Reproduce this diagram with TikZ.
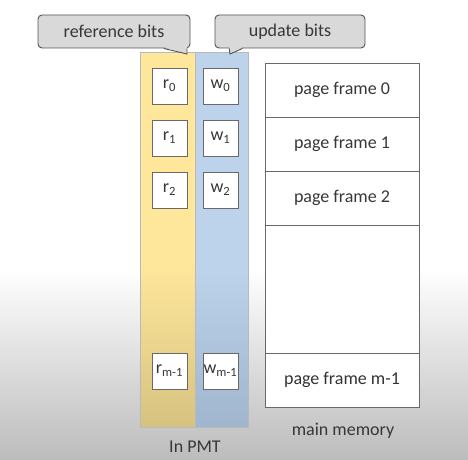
\documentclass[tikz,border=0pt]{standalone}
\usepackage{fontspec}
\setmainfont{Carlito}
\definecolor{reftop}{RGB}{254,230,155}
\definecolor{refbot}{RGB}{214,194,128}
\definecolor{updtop}{RGB}{188,211,235}
\definecolor{updbot}{RGB}{160,181,206}
\definecolor{bggray}{RGB}{188,188,188}
\definecolor{tipgray}{RGB}{217,217,217}
\definecolor{tipline}{RGB}{85,85,85}
\definecolor{txtgray}{RGB}{55,55,55}
\definecolor{boxline}{RGB}{105,105,105}
\begin{document}
\begin{tikzpicture}[x=0.75pt,y=-0.75pt,
  every node/.style={text=txtgray,font=\fontsize{13.5}{16}\selectfont},
  bitcell/.style={draw=boxline,fill=white,line width=0.6pt,minimum width=26.25pt,minimum height=27pt,inner sep=0pt},
  framecell/.style={draw=boxline,fill=white,line width=0.7pt,minimum width=115.5pt,minimum height=40.5pt,inner sep=0pt},
  bitlabel/.style={draw=tipline,fill=tipgray,line width=0.7pt,rounded corners=3pt,minimum height=24.75pt,inner sep=0pt}]
\useasboundingbox (0,0) rectangle (468,460);
% background
\fill[white] (0,0) rectangle (468,460);
\shade[top color=white,bottom color=bggray] (0,268) rectangle (468,460);
% PMT columns
\fill[reftop] (140,52) rectangle (195,268);
\shade[top color=reftop,bottom color=refbot] (140,268) rectangle (195,427);
\fill[updtop] (195,52) rectangle (248,268);
\shade[top color=updtop,bottom color=updbot] (195,268) rectangle (248,427);
\draw[gray!55,line width=0.5pt] (140,52) rectangle (195,427);
\draw[gray!55,line width=0.5pt] (195,52) rectangle (248,427);
% reference and update bits
\foreach \i/\y in {0/86,1/138,2/190} {
  \node[bitcell] (r\i) at (169.5,\y) {r\textsubscript{\i}};
  \node[bitcell] (w\i) at (220.5,\y) {w\textsubscript{\i}};
}
\node[bitcell] (rlast) at (169.5,371) {r\textsubscript{m-1}};
\node[bitcell] (wlast) at (220.5,371) {w\textsubscript{m-1}};
\node (pmt) at (195,447) {In PMT};
% main memory
\node[framecell] (f0) at (342,90) {page frame 0};
\node[framecell] (f1) at (342,144) {page frame 1};
\node[framecell] (f2) at (342,198) {page frame 2};
\node[framecell,minimum height=96pt] (fgap) at (342,289) {};
\node[framecell,text=black!80] (flast) at (342,380) {page frame m-1};
\node (mem) at (343,431) {main memory};
% callouts
\node[bitlabel,minimum width=114pt] (refbits) at (114,31.5) {reference bits};
\node[bitlabel,minimum width=112.5pt] (updbits) at (290,31.5) {update bits};
\coordinate (reftip) at (187,54);
\coordinate (updtip) at (230,54);
\fill[tipgray] ([xshift=-20pt,yshift=1pt]refbits.south east) -- (reftip) -- ([xshift=-2.6pt,yshift=1pt]refbits.south east) -- cycle;
\draw[tipline,line width=0.7pt] ([xshift=-20pt]refbits.south east) -- (reftip) -- ([xshift=-2.6pt]refbits.south east);
\fill[tipgray] ([xshift=11pt,yshift=1pt]updbits.south west) -- (updtip) -- ([xshift=21pt,yshift=1pt]updbits.south west) -- cycle;
\draw[tipline,line width=0.7pt] ([xshift=11pt]updbits.south west) -- (updtip) -- ([xshift=21pt]updbits.south west);
\end{tikzpicture}
\end{document}
